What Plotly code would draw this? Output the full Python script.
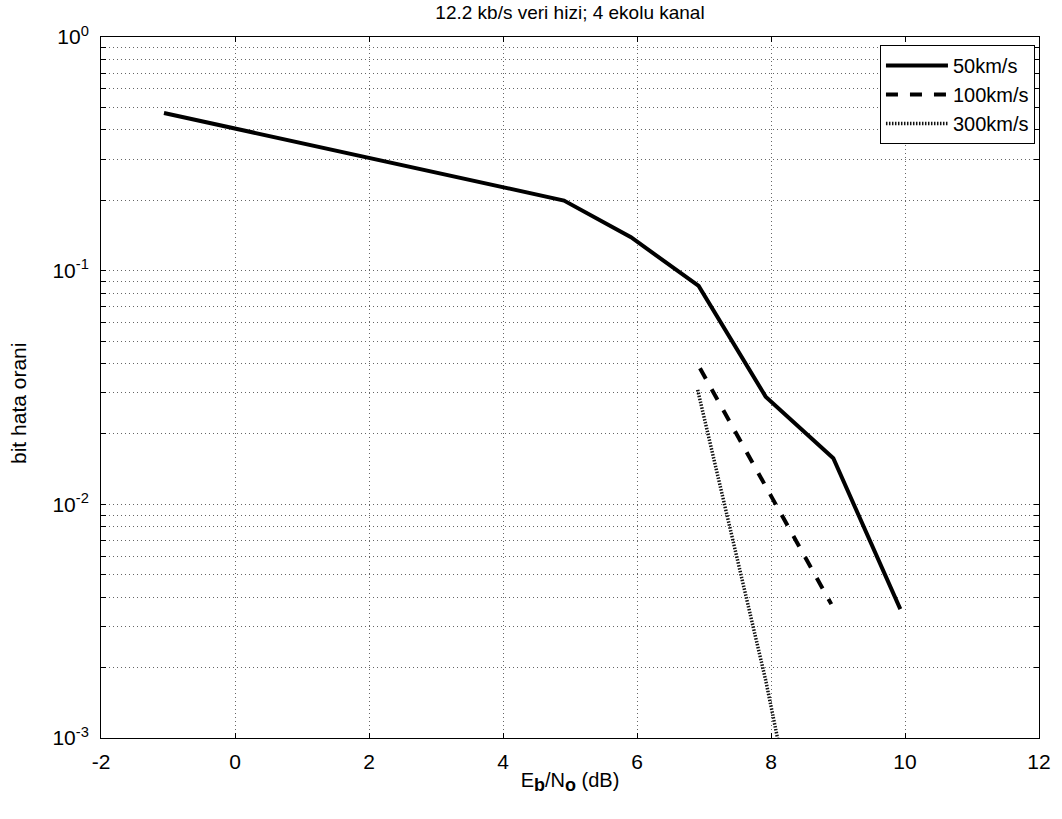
import plotly.graph_objects as go

# Data
x_50 = [-1.06, 4.91, 5.91, 6.92, 7.92, 8.93, 9.93]
y_50 = [0.473, 0.1995, 0.139, 0.086, 0.0289, 0.01575, 0.00356]

x_100 = [6.94, 7.92, 8.90]
y_100 = [0.0382, 0.0119, 0.00374]

x_300 = [6.905, 7.92, 8.92]
y_300 = [0.0309, 0.00177, 0.00007]

series_names = ["50km/s", "100km/s", "300km/s"]
title_text = "12.2 kb/s veri hizi; 4 ekolu kanal"
y_title = "bit hata orani"
x_ticks = [-2, 0, 2, 4, 6, 8, 10, 12]
x_ticklabels = ["-2", "0", "2", "4", "6", "8", "10", "12"]
decades = [-3, -2, -1, 0]

FONT = "Liberation Sans, Arial, sans-serif"
FS = 21

x_title = ('E<sub><span style="font-size:18px"><b>b</b></span></sub>/'
           'N<sub><span style="font-size:18px"><b>o</b></span></sub> (dB)')

y_tickvals = []
y_ticktext = []
for d in decades:
    for m in range(1, 10):
        if d == 0 and m > 1:
            break
        y_tickvals.append(m * 10.0 ** d)
        y_ticktext.append(f"10<sup>{d}</sup>" if m == 1 else "")

fig = go.Figure()
fig.add_trace(go.Scatter(x=x_50, y=y_50, mode="lines", name=series_names[0],
                         line=dict(color="black", width=4)))
fig.add_trace(go.Scatter(x=x_100, y=y_100, mode="lines", name=series_names[1],
                         line=dict(color="black", width=4, dash="dash")))
fig.add_trace(go.Scatter(x=x_300, y=y_300, mode="lines", name=series_names[2],
                         line=dict(color="#111111", width=3.5, dash="1.5px,1.5px")))

axis_common = dict(
    showline=True, linecolor="black", linewidth=1, mirror="allticks",
    ticks="inside", ticklen=5, tickcolor="black",
    showgrid=True, gridcolor="#666666", griddash="1px,3px", gridwidth=1,
    zeroline=False,
    tickfont=dict(family=FONT, size=FS, color="black"),
)

fig.update_layout(
    width=1062, height=819,
    margin=dict(l=101, r=23, t=37, b=81),
    paper_bgcolor="white", plot_bgcolor="white",
    font=dict(family=FONT, color="black"),
    title=dict(text=title_text, xref="paper", x=0.5, xanchor="center",
               yref="container", y=0.985, yanchor="middle",
               font=dict(family=FONT, size=19, color="black")),
    xaxis=dict(range=[-2, 12], tickvals=x_ticks, ticktext=x_ticklabels,
               ticklabelstandoff=5,
               title=dict(text=x_title, font=dict(family=FONT, size=20), standoff=0),
               **axis_common),
    yaxis=dict(type="log", range=[-3, 0], tickvals=y_tickvals, ticktext=y_ticktext,
               ticklabelstandoff=7, **axis_common),
    legend=dict(x=0.9957, y=0.9886, xanchor="right", yanchor="top",
                bgcolor="white", bordercolor="black", borderwidth=1,
                font=dict(family=FONT, size=20, color="black"),
                tracegroupgap=0, itemwidth=62),
    showlegend=True,
    annotations=[dict(text=y_title, textangle=-90, showarrow=False,
                      xref="paper", yref="paper", x=-0.0874, y=0.4765,
                      xanchor="center", yanchor="middle",
                      font=dict(family=FONT, size=21, color="black"))],
)

fig.write_html("out.html")
